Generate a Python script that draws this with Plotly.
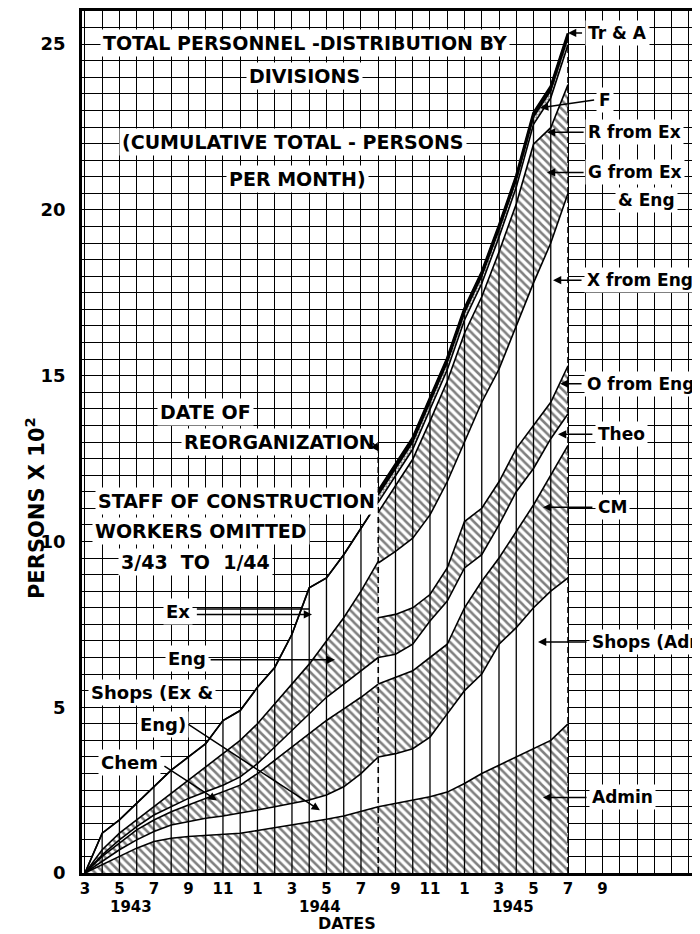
import numpy as np
import plotly.graph_objects as go

# ---------------- data (persons x 100, per month) ----------------
months_pre = ["3/43", "4/43", "5/43", "6/43", "7/43", "8/43", "9/43", "10/43", "11/43",
              "12/43", "1/44", "2/44", "3/44", "4/44", "5/44", "6/44", "7/44", "8/44"]
months_post = ["8/44", "9/44", "10/44", "11/44", "12/44", "1/45", "2/45", "3/45",
               "4/45", "5/45", "6/45", "7/45"]

# before reorganization (bottom -> top)
admin_pre = [0, 0.25, 0.5, 0.75, 0.95, 1.05, 1.1, 1.13, 1.16, 1.2, 1.28, 1.36, 1.45, 1.53, 1.62, 1.72, 1.85, 2.0]
shops_exeng_pre = [0, 0.1, 0.2, 0.25, 0.3, 0.4, 0.45, 0.52, 0.56, 0.6, 0.62, 0.64, 0.65, 0.67, 0.73, 0.88, 1.15, 1.5]
chem_pre = [0, 0.15, 0.2, 0.3, 0.35, 0.4, 0.5, 0.6, 0.73, 0.85, 1.1, 1.4, 1.7, 2.0, 2.25, 2.35, 2.3, 2.2]
theo_pre = [0, 0.05, 0.1, 0.1, 0.15, 0.15, 0.2, 0.2, 0.2, 0.25, 0.3, 0.4, 0.5, 0.6, 0.7, 0.75, 0.8, 0.8]
eng_pre = [0, 0.15, 0.2, 0.2, 0.25, 0.4, 0.55, 0.75, 0.95, 1.1, 1.2, 1.3, 1.4, 1.5, 1.7, 2.0, 2.4, 2.9]
ex_pre = [0, 0.5, 0.4, 0.5, 0.6, 0.7, 0.7, 0.7, 1.0, 0.9, 1.1, 1.1, 1.5, 2.3, 1.9, 1.9, 1.9, 1.8]

# after reorganization (bottom -> top)
admin_post = [2.0, 2.1, 2.18, 2.3, 2.44, 2.7, 3.0, 3.25, 3.5, 3.75, 4.0, 4.5]
shops_adm_post = [1.5, 1.5, 1.57, 1.8, 2.36, 2.8, 3.0, 3.65, 3.9, 4.25, 4.5, 4.4]
cm_post = [2.2, 2.3, 2.35, 2.4, 2.1, 2.5, 2.8, 2.6, 2.9, 3.1, 3.5, 4.0]
theo_post = [0.8, 0.7, 0.8, 1.1, 1.3, 1.2, 0.8, 1.0, 1.2, 1.1, 1.1, 0.95]
o_post = [1.2, 1.2, 1.1, 0.8, 1.0, 1.4, 1.4, 1.3, 1.3, 1.3, 1.1, 1.45]
xdiv_post = [1.65, 1.9, 2.1, 2.4, 2.6, 2.4, 3.2, 3.4, 3.7, 4.3, 4.8, 5.2]
g_post = [1.53, 1.98, 2.38, 2.83, 3.03, 3.28, 3.18, 3.53, 3.68, 4.18, 3.48, 3.28]
r_post = [0.3, 0.3, 0.3, 0.35, 0.35, 0.4, 0.4, 0.45, 0.5, 0.6, 0.9, 1.2]
f_post = [0.22, 0.22, 0.22, 0.22, 0.22, 0.22, 0.22, 0.22, 0.22, 0.22, 0.22, 0.22]
tra_post = [0.12, 0.12, 0.12, 0.12, 0.12, 0.12, 0.12, 0.12, 0.12, 0.12, 0.12, 0.12]

tick_text = ["3", "5", "7", "9", "11", "1", "3", "5", "7", "9", "11", "1", "3", "5", "7", "9"]
year_labels = ["1943", "1944", "1945"]

# ---------------- styling ----------------
FONT = "DejaVu Sans"
HATCH = dict(shape="\\", fgcolor="black", bgcolor="white", size=6, solidity=0.42)
DOTS = dict(shape=".", fgcolor="black", bgcolor="white", size=3, solidity=0.5)

fig = go.Figure()

x_pre = np.arange(len(months_pre))
x_post = np.arange(len(months_pre) - 1, len(months_pre) - 1 + len(months_post))


def add_stack(x, layers):
    base = np.zeros(len(x))
    first = True
    for (name, vals, kind) in layers:
        top = base + np.array(vals, dtype=float)
        kw = dict(x=x, y=top, mode="lines", name=name,
                  line=dict(color="black", width=1.6),
                  fill="tozeroy" if first else "tonexty", hoverinfo="skip")
        if kind == "hatch":
            kw["fillpattern"] = HATCH
            kw["fillcolor"] = "white"
        elif kind == "dots":
            kw["fillpattern"] = DOTS
            kw["fillcolor"] = "white"
        elif kind == "solid":
            kw["fillcolor"] = "black"
        else:
            kw["fillcolor"] = "white"
        fig.add_trace(go.Scatter(**kw))
        base = top
        first = False
    return base


total_pre = add_stack(x_pre, [
    ("Admin", admin_pre, "hatch"),
    ("Shops (Ex & Eng)", shops_exeng_pre, "white"),
    ("Chem", chem_pre, "hatch"),
    ("Theo", theo_pre, "white"),
    ("Eng", eng_pre, "hatch"),
    ("Ex", ex_pre, "white"),
])

total_post = add_stack(x_post, [
    ("Admin", admin_post, "hatch"),
    ("Shops (Admin)", shops_adm_post, "white"),
    ("CM", cm_post, "hatch"),
    ("Theo", theo_post, "white"),
    ("O from Eng", o_post, "hatch"),
    ("X from Eng", xdiv_post, "white"),
    ("G from Ex & Eng", g_post, "hatch"),
    ("R from Ex", r_post, "white"),
    ("F", f_post, "dots"),
    ("Tr & A", tra_post, "solid"),
])

# vertical monthly rulings drawn through the bands
totals = list(total_pre[:-1]) + list(total_post)
i_reorg = len(months_pre) - 1
vx, vy = [], []
for i, t in enumerate(totals):
    if i in (0, i_reorg, len(totals) - 1):
        continue
    vx += [i, i, None]
    vy += [0, t, None]
fig.add_trace(go.Scatter(x=vx, y=vy, mode="lines", line=dict(color="black", width=1.3),
                         hoverinfo="skip"))
# dashed lines: date of reorganization and last month
fig.add_trace(go.Scatter(x=[i_reorg, i_reorg], y=[0, 13.0], mode="lines",
                         line=dict(color="black", width=1.6, dash="6px,4px"), hoverinfo="skip"))
fig.add_trace(go.Scatter(x=[len(totals) - 1] * 2, y=[0, totals[-1]], mode="lines",
                         line=dict(color="black", width=1.6, dash="6px,4px"), hoverinfo="skip"))
# top outlines over the rulings
fig.add_trace(go.Scatter(x=x_pre, y=total_pre, mode="lines", line=dict(color="black", width=1.6),
                         hoverinfo="skip"))
fig.add_trace(go.Scatter(x=x_post, y=total_post, mode="lines", line=dict(color="black", width=2.8),
                         hoverinfo="skip"))

# ---------------- axes ----------------
fig.update_xaxes(range=[-0.17, 35.65], tickmode="array",
                 tickvals=list(range(0, 2 * len(tick_text), 2)), ticktext=tick_text,
                 showgrid=True, gridcolor="black", gridwidth=1.4,
                 minor=dict(dtick=1, tick0=0, showgrid=True, gridcolor="black", gridwidth=1.4),
                 showline=True, linecolor="black", linewidth=2.5, mirror=True,
                 ticks="", zeroline=False,
                 tickfont=dict(family=FONT, size=15, color="black", weight="bold"))
fig.update_yaxes(range=[0, 26], tickmode="array", tickvals=[0, 5, 10, 15, 20, 25],
                 showgrid=True, gridcolor="black", gridwidth=1.4,
                 minor=dict(dtick=0.5, tick0=0, showgrid=True, gridcolor="black", gridwidth=1.4),
                 showline=True, linecolor="black", linewidth=2.5, ticks="", zeroline=False,
                 ticklabelstandoff=10,
                 tickfont=dict(family=FONT, size=18, color="black", weight="bold"))

# page body has an 8px margin: figure sized so plot area sits where the reference's does
fig.update_layout(width=692, height=926, margin=dict(l=74, r=0, t=0, b=61),
                  plot_bgcolor="white", paper_bgcolor="white", showlegend=False)

# ---------------- text ----------------
def txt(x, y, s, size=19, xanchor="center", bg=True, xref="x", yref="y"):
    fig.add_annotation(x=x, y=y, xref=xref, yref=yref, text=s, showarrow=False,
                       xanchor=xanchor, yanchor="middle",
                       bgcolor="white" if bg else None, borderpad=2,
                       font=dict(family=FONT, size=size, color="black", weight="bold"))


def arrow(x0, y0, x1, y1, head=2):
    fig.add_annotation(x=x1, y=y1, ax=x0, ay=y0, xref="x", yref="y", axref="x", ayref="y",
                       text="", showarrow=True, arrowhead=head, arrowsize=1.1, arrowwidth=1.5,
                       arrowcolor="black")


txt(12.75, 25.04, "TOTAL PERSONNEL -DISTRIBUTION BY")
txt(12.75, 24.05, "DIVISIONS")
txt(12.06, 22.06, "(CUMULATIVE TOTAL - PERSONS")
txt(12.3, 20.92, "PER MONTH)")
txt(7.0, 13.92, "DATE OF")
txt(11.3, 13.01, "REORGANIZATION")
txt(8.8, 11.21, "STAFF OF CONSTRUCTION")
txt(6.7, 10.31, "WORKERS OMITTED")
txt(6.4, 9.38, "3/43  TO  1/44")
txt(5.39, 7.9, "Ex", size=18)
txt(5.9, 6.46, "Eng", size=18)
txt(3.9, 5.44, "Shops (Ex &", size=18)
txt(4.5, 4.48, "Eng)", size=18)
txt(2.6, 3.34, "Chem", size=18)

arrow(16.64, 13.01, 17.04, 12.71)
arrow(6.4, 7.96, 13.0, 7.96, head=0)
arrow(6.4, 7.8, 13.16, 7.8)
arrow(7.2, 6.43, 14.49, 6.43)
arrow(5.91, 4.51, 13.62, 1.89)
arrow(4.52, 3.25, 7.65, 2.19)

right = [
    (28.9, 25.34, 28.0, 25.34, "Tr & A", 29.0),
    (29.6, 23.32, 26.38, 23.08, "F", 29.65),
    (28.99, 22.34, 26.78, 22.34, "R from Ex", 29.0),
    (28.99, 21.13, 26.78, 21.13, "G from Ex", 29.0),
    (28.87, 17.88, 27.13, 17.88, "X from Eng", 28.9),
    (28.87, 14.76, 27.54, 14.76, "O from Eng", 28.9),
    (29.5, 13.23, 27.42, 13.23, "Theo", 29.55),
    (29.5, 11.03, 26.55, 11.03, "CM", 29.55),
    (29.16, 6.97, 26.26, 6.97, "Shops (Admin)", 29.2),
    (29.16, 2.28, 26.55, 2.28, "Admin", 29.2),
]
for (ax_, ay_, hx, hy, s, tx) in right:
    arrow(ax_, ay_, hx, hy)
    txt(tx, ay_, s, size=17, xanchor="left")
txt(30.7, 20.29, "& Eng", size=17, xanchor="left")

# year labels and axis titles
for s, xi in zip(year_labels, [2.67, 13.6, 24.8]):
    txt(xi, -0.039, s, size=15, bg=False, yref="paper")
txt(15.2, -0.0585, "DATES", size=16, bg=False, yref="paper")
fig.add_annotation(x=-0.075, y=0.423, xref="paper", yref="paper", text="PERSONS X 10<sup>2</sup>",
                   showarrow=False, textangle=-90, xanchor="center", yanchor="middle",
                   font=dict(family=FONT, size=21, color="black", weight="bold"))

fig.write_html("out.html")
